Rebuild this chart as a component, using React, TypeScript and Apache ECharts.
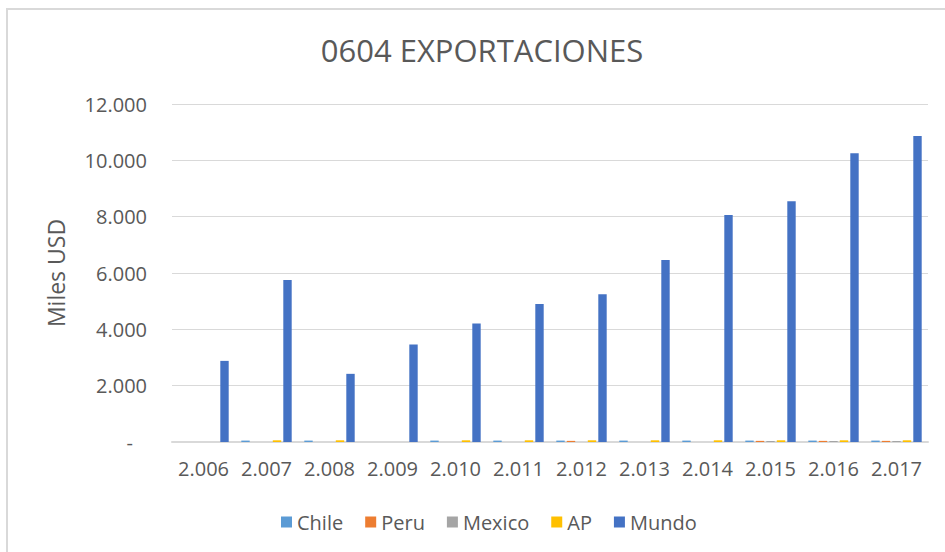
import React, { useEffect, useRef } from "react";
import * as echarts from "echarts";

const categories = ["2.006", "2.007", "2.008", "2.009", "2.010", "2.011", "2.012", "2.013", "2.014", "2.015", "2.016", "2.017"];
const chile = [0, 50, 50, 0, 50, 50, 50, 50, 50, 50, 50, 50];
const peru = [0, 0, 0, 0, 0, 0, 40, 0, 0, 40, 40, 40];
const mexico = [0, 0, 0, 0, 0, 0, 0, 0, 0, 35, 35, 35];
const ap = [0, 60, 60, 0, 60, 60, 60, 60, 60, 60, 60, 60];
const mundo = [2880, 5750, 2420, 3460, 4210, 4900, 5250, 6460, 8060, 8550, 10250, 10860];
const yTicks = [0, 2000, 4000, 6000, 8000, 10000, 12000];

const FONT = "Open Sans";
const TXT = "#595959";

function fmt(v: number): string {
  if (v === 0) return "{z|-}";
  return String(v / 1000) + ".000";
}

export default function App() {
  const ref = useRef<HTMLDivElement>(null);
  useEffect(() => {
    if (!ref.current) return;
    const chart = echarts.init(ref.current, null, { renderer: "svg" });
    const mk = (name: string, data: number[], color: string) => ({
      name,
      type: "bar",
      data,
      itemStyle: { color },
      barGap: "25%",
      barCategoryGap: "20%",
    });
    chart.setOption({
      animation: false,
      backgroundColor: "#ffffff",
      textStyle: { fontFamily: FONT },
      title: {
        text: "0604 EXPORTACIONES",
        left: 477,
        top: 29,
        textAlign: "center",
        textStyle: { fontFamily: FONT, fontSize: 31, fontWeight: "normal", color: TXT },
      },
      graphic: [
        {
          type: "rect",
          shape: { x: 7, y: 9, width: 1000, height: 1000 },
          style: { fill: "none", stroke: "#d9d9d9", lineWidth: 2 },
          silent: true,
        },
      ],
      legend: {
        data: ["Chile", "Peru", "Mexico", "AP", "Mundo"],
        left: 276,
        top: 507,
        itemWidth: 11,
        itemHeight: 11,
        itemGap: 22,
        icon: "rect",
        textStyle: { fontFamily: FONT, fontSize: 20, color: TXT },
      },
      grid: { left: 172, right: 17, top: 104, bottom: 110, containLabel: false },
      xAxis: {
        type: "category",
        data: categories,
        axisTick: { show: false },
        axisLine: { lineStyle: { color: "#d9d9d9", width: 2 } },
        axisLabel: { fontFamily: FONT, fontSize: 20, color: TXT, margin: 16, interval: 0, hideOverlap: false },
      },
      yAxis: {
        type: "value",
        min: yTicks[0],
        max: yTicks[yTicks.length - 1],
        interval: 2000,
        name: "Miles USD",
        nameLocation: "middle",
        nameGap: 105,
        nameRotate: 90,
        nameTextStyle: { fontFamily: FONT, fontSize: 23, color: TXT },
        axisLine: { show: false },
        axisTick: { show: false },
        splitLine: { lineStyle: { color: "#d9d9d9", width: 1 } },
        axisLabel: {
          fontFamily: FONT,
          fontSize: 20,
          color: TXT,
          margin: 25,
          formatter: fmt,
          rich: { z: { fontFamily: FONT, fontSize: 20, color: TXT, padding: [0, 14, 0, 0] } },
        },
      },
      series: [
        mk("Chile", chile, "#5b9bd5"),
        mk("Peru", peru, "#ed7d31"),
        mk("Mexico", mexico, "#a5a5a5"),
        mk("AP", ap, "#ffc000"),
        mk("Mundo", mundo, "#4472c4"),
      ],
    });
    return () => chart.dispose();
  }, []);
  return <div ref={ref} style={{ position: "fixed", left: 0, top: 0, width: 945, height: 552 }} />;
}
